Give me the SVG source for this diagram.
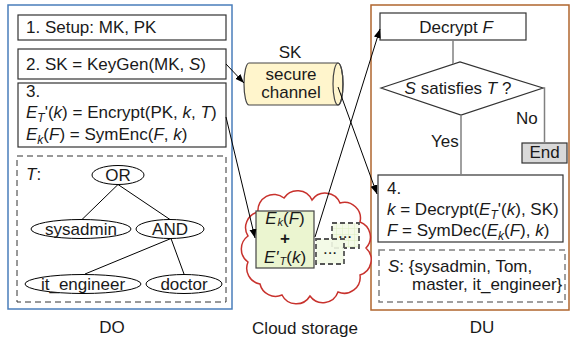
<svg xmlns="http://www.w3.org/2000/svg" width="571" height="340" viewBox="0 0 571 340">
<style>
.t{font-family:"Liberation Sans",Arial,sans-serif;font-size:17px;fill:#1a1a1a}
.i{font-style:italic}
.m{text-anchor:middle}
.box{fill:#fff;stroke:#333;stroke-width:1.2}
.dash{fill:none;stroke:#333;stroke-width:1;stroke-dasharray:6 4}
.gdash{fill:none;stroke:#808080;stroke-width:1.5;stroke-dasharray:6 4}
.conn{stroke:#000;stroke-width:1;fill:none}
.flow{stroke:#808080;stroke-width:1.5;fill:none}
.ell{fill:#fff;stroke:#000;stroke-width:1}
.tl{stroke:#000;stroke-width:1}
.sm{fill:#f2f9e4;stroke:#555;stroke-width:1.8;stroke-dasharray:5 3}
</style>
<defs>
<marker id="arr" markerUnits="userSpaceOnUse" markerWidth="10" markerHeight="8" refX="9" refY="3.5" orient="auto">
<path d="M0,0 L9,3.5 L0,7 z" fill="#000"/>
</marker>
<pattern id="grid" width="6" height="6" patternUnits="userSpaceOnUse">
<rect width="6" height="6" fill="#f2f9e4"/>
<path d="M0,0 H6 M0,0 V6" stroke="#d6ebb4" stroke-width="1"/>
</pattern>
</defs>

<!-- containers -->
<g id="DO">
<rect x="8" y="5" width="224" height="304" fill="none" stroke="#4a7ebb" stroke-width="1.5"/>
<text class="t m" x="112" y="333">DO</text>
</g>
<g id="DU">
<rect x="371" y="5" width="198" height="305" fill="none" stroke="#b0662e" stroke-width="1.5"/>
<text class="t m" x="482" y="333">DU</text>
</g>
<g id="cloud">
<path d="M258,212 A16,16 0 0 1 284,198 A16,16 0 0 1 312,200 A16,16 0 0 1 340,203 A16,16 0 0 1 360,222 A16,16 0 0 1 366,248 A16,16 0 0 1 360,275 A16,16 0 0 1 338,292 A16,16 0 0 1 310,296 A16,16 0 0 1 282,295 A16,16 0 0 1 260,284 A16,16 0 0 1 248,262 A16,16 0 0 1 248,236 A16,16 0 0 1 258,212 Z" fill="#fff" stroke="#c8322d" stroke-width="1.5"/>
<text class="t m" x="305" y="334">Cloud storage</text>
</g>

<!-- DO nodes -->
<g id="setup">
<rect class="box" x="18" y="15" width="208" height="25"/>
<text class="t" x="26" y="33">1. Setup: MK, PK</text>
</g>
<g id="keygen">
<rect class="box" x="18" y="49" width="208" height="30"/>
<text class="t" x="26" y="70">2. SK = KeyGen(MK, <tspan class="i">S</tspan>)</text>
</g>
<g id="encrypt">
<rect class="box" x="18" y="83" width="208" height="64"/>
<text class="t" x="26" y="97">3.</text>
<text class="t" x="26" y="118"><tspan class="i">E</tspan><tspan class="i" font-size="12" dy="4">T</tspan><tspan dy="-4">'(</tspan><tspan class="i">k</tspan>) = Encrypt(PK, <tspan class="i">k</tspan>, <tspan class="i">T</tspan>)</text>
<text class="t" x="26" y="140"><tspan class="i">E</tspan><tspan class="i" font-size="12" dy="4">k</tspan><tspan dy="-4">(</tspan><tspan class="i">F</tspan>) = SymEnc(<tspan class="i">F</tspan>, <tspan class="i">k</tspan>)</text>
</g>
<g id="policy">
<rect class="dash" x="17" y="156" width="209" height="146"/>
<text class="t i" x="26" y="180">T<tspan font-style="normal">:</tspan></text>
<line class="tl" x1="118" y1="184.5" x2="82" y2="219.5"/>
<line class="tl" x1="118" y1="184.5" x2="170" y2="219.5"/>
<line class="tl" x1="171" y1="238.5" x2="85" y2="274"/>
<line class="tl" x1="171" y1="238.5" x2="184" y2="274"/>
<ellipse class="ell" cx="118" cy="175" rx="26" ry="9.5"/>
<text class="t m" x="118" y="181">OR</text>
<ellipse class="ell" cx="81" cy="229" rx="50" ry="9.5"/>
<text class="t m" x="81" y="235">sysadmin</text>
<ellipse class="ell" cx="170" cy="229" rx="34" ry="9.5"/>
<text class="t m" x="170" y="235">AND</text>
<ellipse class="ell" cx="83" cy="284" rx="58" ry="9.5"/>
<text class="t m" x="83" y="290">it_engineer</text>
<ellipse class="ell" cx="184" cy="284" rx="38" ry="9.5"/>
<text class="t m" x="184" y="290">doctor</text>
</g>

<!-- secure channel -->
<g id="channel">
<path d="M249,63 L338,63 A5,21 0 0 1 338,105 L249,105 A5,21 0 0 1 249,63 Z" fill="#fff5cc" stroke="#444" stroke-width="1.2"/>
<ellipse cx="338" cy="84" rx="5" ry="21" fill="none" stroke="#444" stroke-width="1.2"/>
<text class="t m" x="290" y="58">SK</text>
<text class="t m" x="291" y="80">secure</text>
<text class="t m" x="291" y="98">channel</text>
</g>

<!-- cloud contents -->
<g id="others">
<rect x="332" y="223" width="27" height="25" fill="url(#grid)" fill-opacity="0.85" stroke="#555" stroke-width="1.8" stroke-dasharray="5 3"/>
<text class="t m" x="345" y="238" font-size="8">...</text>
<rect class="sm" x="316" y="239" width="28" height="25" fill-opacity="0.9"/>
<text class="t m" x="330" y="254" font-size="8">...</text>
</g>
<g id="ciphertext">
<rect x="256" y="211" width="58" height="57" fill="#ebf5d0" stroke="#444" stroke-width="1.2"/>
<text class="t m" x="285" y="224" font-size="16"><tspan class="i">E</tspan><tspan class="i" font-size="11" dy="2" dx="1">k</tspan><tspan dy="-2">(</tspan><tspan class="i">F</tspan>)</text>
<text class="t m" x="285" y="243.5" font-size="10" font-weight="bold">+</text>
<text class="t m" x="285" y="263" font-size="16"><tspan class="i">E'</tspan><tspan class="i" font-size="11" dy="2" dx="1">T</tspan><tspan dy="-2">(</tspan><tspan class="i">k</tspan>)</text>
</g>

<!-- DU nodes -->
<g id="decryptF">
<rect class="box" x="380" y="13" width="146" height="27"/>
<text class="t m" x="456" y="33">Decrypt <tspan class="i">F</tspan></text>
</g>
<g id="check">
<polygon points="381,88 460,62 543,88 461,115" fill="#fff" stroke="#333" stroke-width="1.2"/>
<text class="t m" x="458" y="94"><tspan class="i">S</tspan> satisfies <tspan class="i">T</tspan> ?</text>
</g>
<g id="end">
<rect x="522" y="143" width="45" height="20" fill="#d9d9d9" stroke="#333" stroke-width="1.2"/>
<text class="t m" x="544.5" y="158">End</text>
</g>
<g id="decrypt">
<rect class="box" x="378" y="175" width="185" height="67"/>
<text class="t" x="387" y="194">4.</text>
<text class="t" x="387" y="215"><tspan class="i">k</tspan> = Decrypt(<tspan class="i">E</tspan><tspan class="i" font-size="12" dy="4">T</tspan><tspan dy="-4">'(</tspan><tspan class="i">k</tspan>), SK)</text>
<text class="t" x="387" y="236"><tspan class="i">F</tspan> = SymDec(<tspan class="i">E</tspan><tspan class="i" font-size="12" dy="4">k</tspan><tspan dy="-4">(</tspan><tspan class="i">F</tspan>), <tspan class="i">k</tspan>)</text>
</g>
<g id="attrs">
<rect class="gdash" x="379" y="250" width="186" height="52"/>
<text class="t" x="388" y="272"><tspan class="i">S</tspan>: {sysadmin, Tom,</text>
<text class="t" x="412" y="290">master, it_engineer}</text>
</g>

<!-- connectors -->
<g id="connectors">
<path class="flow" d="M453,40 V64"/>
<path class="flow" d="M543,88 H544.5 V143"/>
<path class="flow" d="M461,115 V175"/>
<text class="t" x="431" y="147">Yes</text>
<text class="t" x="516" y="124">No</text>
<line class="conn" x1="226" y1="64" x2="244" y2="83" marker-end="url(#arr)"/>
<line class="conn" x1="226" y1="117" x2="255" y2="238" marker-end="url(#arr)"/>
<line class="conn" x1="338" y1="87" x2="377" y2="194" marker-end="url(#arr)"/>
<line class="conn" x1="315" y1="237" x2="380" y2="29" marker-end="url(#arr)"/>
</g>
</svg>
